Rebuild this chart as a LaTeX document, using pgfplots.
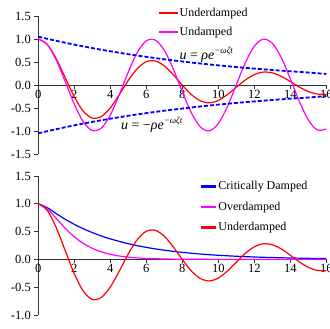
\documentclass[border=0pt]{standalone}
\usepackage{fontspec}
\setmainfont{Liberation Serif}
\usepackage{pgfplots}
\pgfplotsset{compat=1.18}
\definecolor{myred}{RGB}{255,0,0}
\definecolor{mymag}{RGB}{255,0,255}
\definecolor{myblue}{RGB}{0,0,255}
\pgfplotstableread{
t under undamped
0 1.0 1.0
0.5 0.8816 0.8776
1 0.5690 0.5403
1.5 0.1536 0.0707
2 -0.2581 -0.4161
2.5 -0.5703 -0.8011
3 -0.7202 -0.9900
3.5 -0.6849 -0.9365
4 -0.4972 -0.6536
4.5 -0.2100 -0.2108
5 0.0986 0.2837
5.5 0.3565 0.7087
6 0.5062 0.9602
6.5 0.5228 0.9766
7 0.4170 0.7539
7.5 0.2242 0.3466
8 -0.0027 -0.1455
8.5 -0.2070 -0.6020
9 -0.3435 -0.9111
9.5 -0.3876 -0.9972
10 -0.3362 -0.8391
10.5 -0.2108 -0.4755
11 -0.0501 0.0044
11.5 0.1083 0.4833
12 0.2263 0.8439
12.5 0.2804 0.9978
13 0.2641 0.9074
13.5 0.1878 0.5949
14 0.0750 0.1367
14.5 -0.0446 -0.3549
15 -0.1419 -0.7597
15.5 -0.1977 -0.9784
16 -0.2016 -0.9577
}\tblA
\pgfplotstableread{
t up lo
0 1.050 -1.050
1 0.960 -0.960
2 0.877 -0.877
3 0.802 -0.802
4 0.733 -0.733
5 0.669 -0.669
6 0.612 -0.612
7 0.559 -0.559
8 0.511 -0.511
9 0.467 -0.467
10 0.427 -0.427
11 0.390 -0.390
12 0.357 -0.357
13 0.326 -0.326
14 0.298 -0.298
15 0.272 -0.272
16 0.240 -0.240
}\tblEnv
\pgfplotstableread{
t crit
0 1.0
0.5 0.930
1 0.822
1.5 0.7205
2 0.6304
2.5 0.5513
3 0.4822
3.5 0.4217
4 0.3688
5 0.2821
6 0.2158
7 0.1651
8 0.1263
9 0.0966
10 0.0739
11 0.0565
12 0.0432
13 0.0331
14 0.0253
15 0.0194
16 0.0148
}\tblCrit
\pgfplotstableread{
t over
0 1.0
0.5 0.9098
1 0.7358
1.5 0.5578
2 0.4060
2.5 0.2873
3 0.1991
3.5 0.1359
4 0.0916
4.5 0.0611
5 0.0404
5.5 0.0266
6 0.0174
7 0.0073
8 0.0030
9 0.0012
10 0.0005
11 0.0002
12 0.0001
13 0
14 0
15 0
16 0
}\tblOver
\begin{document}
\begin{tikzpicture}
\useasboundingbox (0pt,0pt) rectangle (330pt,329pt);
\pgfplotsset{
  common/.style={
    scale only axis, width=288pt,
    xmin=0, xmax=16,
    axis lines=middle, axis line style={-, line width=0.8pt, black!80},
    hide obscured x ticks=false, hide obscured y ticks=false,
    tick align=outside, major tick length=4pt,
    tick style={line width=0.8pt, black!80},
    xtick={0,2,4,6,8,10,12,14,16},
    xticklabels={0,2,4,6,8,10,12,14,16},
    ticklabel style={font=\fontsize{12.5}{13}\selectfont},
    x tick label style={inner sep=1pt},
    legend style={draw=white, fill=none, font=\fontsize{12}{13}\selectfont,
      inner sep=0pt, text=black},
    legend cell align=left,
    clip=false,
  }
}
\begin{axis}[common, height=138pt, at={(38.3pt,175pt)}, anchor=south west,
  ymin=-1.5, ymax=1.5,
  ytick={-1.5,-1,-0.5,0,0.5,1,1.5},
  yticklabels={-1.5,-1.0,-0.5,0.0,0.5,1.0,1.5},
  legend image code/.code={\fill[#1] (0pt,-0.65pt) rectangle (17pt,0.65pt);},
  legend style={at={(axis description cs:0.42,1.075)}, anchor=north west, row sep=5.2pt},
]
\addplot[color=myred, line width=1.2pt, smooth] table[x=t,y=under] {\tblA};
\addlegendentry{Underdamped}
\addplot[color=mymag, line width=1.2pt, smooth] table[x=t,y=undamped] {\tblA};
\addlegendentry{Undamped}
\addplot[color=myblue, line width=1.8pt, dash pattern=on 4pt off 2pt, smooth, forget plot] table[x=t,y=up] {\tblEnv};
\addplot[color=myblue, line width=1.8pt, dash pattern=on 4pt off 2pt, smooth, forget plot] table[x=t,y=lo] {\tblEnv};
\node[anchor=west, font=\fontsize{14}{14}\selectfont] at (axis cs:7.65,0.66) {\textit{u} = \textit{ρe}\raisebox{0.9ex}{\fontsize{9}{9}\selectfont\textit{−ωζt}}};
\node[anchor=west, font=\fontsize{14}{14}\selectfont] at (axis cs:4.4,-0.86) {\textit{u} = −\textit{ρe}\raisebox{0.9ex}{\fontsize{9}{9}\selectfont\textit{−ωζt}}};
\end{axis}
\begin{axis}[common, height=139pt, at={(38.3pt,14pt)}, anchor=south west,
  ymin=-1, ymax=1.5,
  ytick={-1,-0.5,0,0.5,1,1.5},
  yticklabels={-1.0,-0.5,0.0,0.5,1.0,1.5},
  legend image code/.code={\fill[#1] (0pt,-0.65pt) rectangle (14pt,0.65pt);},
  legend style={at={(axis description cs:0.565,0.975)}, anchor=north west, row sep=6.6pt},
]
\addplot[color=myblue, line width=1.2pt, smooth] table[x=t,y=crit] {\tblCrit};
\addlegendentry{Critically Damped}
\addplot[color=mymag, line width=1.2pt, smooth] table[x=t,y=over] {\tblOver};
\addlegendentry{Overdamped}
\addplot[color=myred, line width=1.2pt, smooth] table[x=t,y=under] {\tblA};
\addlegendentry{Underdamped}
\end{axis}
\end{tikzpicture}
\end{document}
